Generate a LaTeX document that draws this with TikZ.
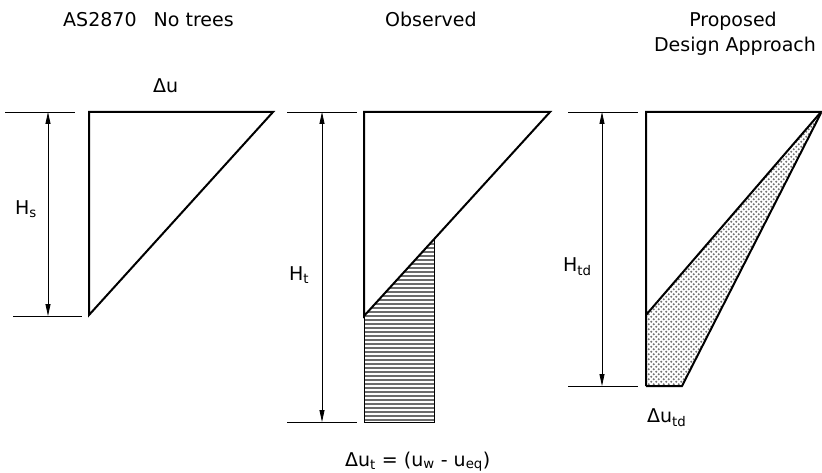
\documentclass[tikz,border=0pt]{standalone}
\usepackage{fontspec}
\setmainfont{DejaVu Sans}
\usetikzlibrary{calc, positioning}
\usetikzlibrary{arrows.meta}
\usetikzlibrary{patterns}

\pgfdeclarepatternformonly{sanddots}{\pgfpoint{-1pt}{-1pt}}{\pgfpoint{6pt}{6pt}}{\pgfpoint{5pt}{5pt}}{%
  \pgfpathcircle{\pgfpoint{1.25pt}{1.25pt}}{1.2pt}%
  \pgfpathcircle{\pgfpoint{3.75pt}{3.75pt}}{1.2pt}%
  \pgfusepath{fill}}

\begin{document}
\begin{tikzpicture}[x=1pt,y=-1pt,font=\fontsize{19}{25}\selectfont,
    outline/.style={line width=2pt},
    thinline/.style={line width=1pt},
    dimline/.style={line width=0.8pt},
    dimarrow/.style={line width=0.8pt,{Triangle[length=12pt,width=5pt]}-{Triangle[length=12pt,width=5pt]}},
    lbl/.style={inner sep=0pt,anchor=base west}]
      \useasboundingbox (0,0) rectangle (822,473);
      \def\ytop{112}
      % AS2870, no trees
      \node[lbl] (title-s) at (63,27) {AS2870\hspace{0.9em}No trees};
      \node[lbl] (du-s) at (153,93) {Δu};
      \coordinate (s-top) at (48,\ytop);
      \coordinate (s-bot) at (48,316);
      \draw[dimline] (5,\ytop) -- (75,\ytop);
      \draw[dimline] (13,316) -- (82,316);
      \draw[dimarrow] (s-top) -- (s-bot);
      \node[lbl] (hs) at (15,215) {H\textsubscript{s}};
      \draw[outline] (89,\ytop) -- (273,\ytop) -- (89,315) -- cycle;
      % observed
      \node[lbl] (title-o) at (385,27) {Observed};
      \coordinate (t-top) at (322,\ytop);
      \coordinate (t-bot) at (322,422);
      \draw[dimline] (287,\ytop) -- (357,\ytop);
      \draw[dimline] (287,422) -- (357,422);
      \draw[dimarrow] (t-top) -- (t-bot);
      \node[lbl] (ht) at (289,280) {H\textsubscript{t}};
      \begin{scope}
        \clip (364,316) -- (434,239) -- (434,422) -- (364,422) -- cycle;
        \foreach \y in {240,244,...,424}
          \draw[gray!85!black,line width=2pt] (364,\y) -- (434,\y);
      \end{scope}
      \draw[thinline] (364,316) -- (364,422) -- (434,422) -- (434,239);
      \draw[outline] (364,\ytop) -- (550,\ytop) -- (364,316) -- cycle;
      \node[lbl] (du-t) at (345,466) {Δu\textsubscript{t} = (u\textsubscript{w} - u\textsubscript{eq})};
      % proposed design approach
      \node[inner sep=0pt,anchor=base] (title-p1) at (733,27) {Proposed};
      \node[inner sep=0pt,anchor=base] (title-p2) at (735,52) {Design Approach};
      \coordinate (td-top) at (602,\ytop);
      \coordinate (td-bot) at (602,386);
      \draw[dimline] (568,\ytop) -- (638,\ytop);
      \draw[dimline] (568,386) -- (638,386);
      \draw[dimarrow] (td-top) -- (td-bot);
      \node[lbl] (htd) at (563,271) {H\textsubscript{td}};
      \fill[pattern=sanddots,pattern color=gray!90!black] (646,315) -- (820,114) -- (682,386) -- (646,386) -- cycle;
      \draw[outline] (646,386) -- (646,\ytop) -- (821,\ytop) -- (646,315);
      \draw[outline] (821,113) -- (682,386) -- (646,386);
      \node[lbl] (du-td) at (647,422) {Δu\textsubscript{td}};
    \end{tikzpicture}
\end{document}
